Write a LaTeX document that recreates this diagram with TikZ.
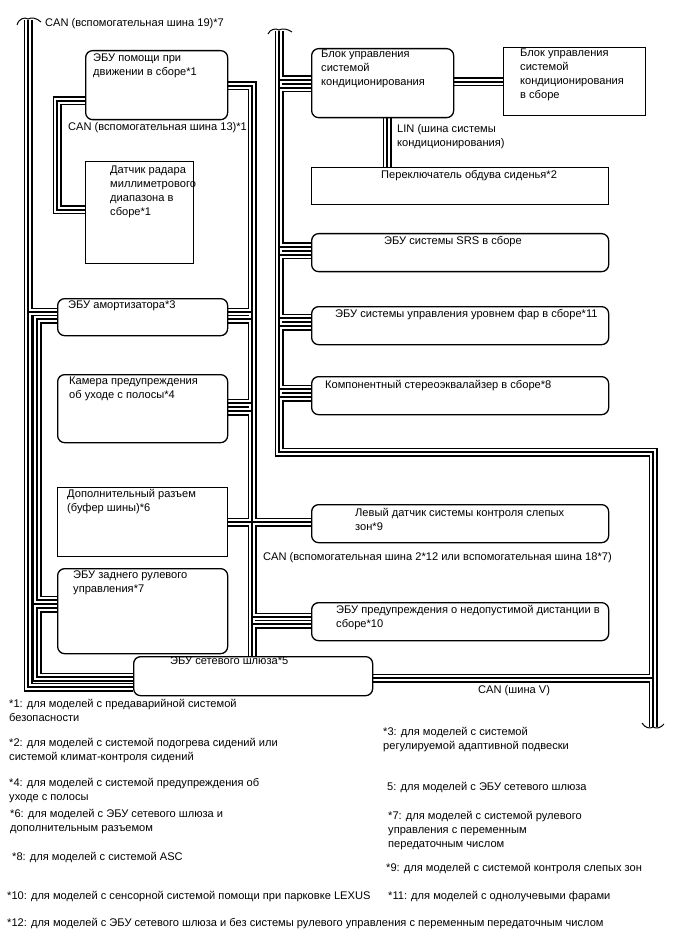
\documentclass[tikz,border=0pt]{standalone}
\usepackage{fontspec}
\setmainfont{Liberation Sans}
\usetikzlibrary{calc}
\pgfdeclarelayer{bgfill}
\pgfdeclarelayer{wires}
\pgfsetlayers{bgfill,wires,main}
\newcommand\fs{\fontsize{11.1}{13.9}\selectfont}
\tikzset{
  rbox/.style={draw, line width=1.3pt, rounded corners=7pt, fill=white, inner sep=0pt, anchor=north west},
  sqbox/.style={draw, line width=1.3pt, fill=white, inner sep=0pt, anchor=north west},
  txt/.style={anchor=north west, inner sep=0pt, align=left, font=\fs},
  wireO/.style={line width=9pt, black},
  wireW/.style={line width=5.2pt, white},
  wireI/.style={line width=2.2pt, black},
  endmark/.style={line width=1pt},
}
\newcommand\allwires[1]{%
  % left outer bus (CAN 19)
  \draw[#1] (lbtop) -- (28,687) -- (gw.west |- 0,687);
  \draw[#1] (28,312) -- (amo.west |- 0,312);
  \draw[#1] (amo.west |- 0,319) -- (37,319) -- (37,600) -- (rear.west |- 0,600);
  \draw[#1] (rear.west |- 0,608) -- (37,608) -- (37,677) -- (gw.west |- 0,677);
  % CAN 13 loop
  \draw[#1] (ebuA.west |- 0,101) -- (57,101) -- (57,210) -- (radar.west |- 0,210);
  % middle bus
  \draw[#1] (ebuA.east |- 0,86) -- (252,86) -- (252,0 |- gw.north);
  \draw[#1] (amo.east |- 0,312) -- (252,312);
  \draw[#1] (amo.east |- 0,319) -- (252,319);
  \draw[#1] (cam.east |- 0,403) -- (252,403);
  \draw[#1] (cam.east |- 0,411) -- (252,411);
  \draw[#1] (conn.east |- 0,522) -- (lsens.west |- 0,522);
  \draw[#1] (252,617) -- (dist.west |- 0,617);
  \draw[#1] (252,624) -- (dist.west |- 0,624);
  % right bus
  \draw[#1] (rbtop) -- (279,452) -- (653,452) -- (rbbot);
  \draw[#1] (279,80) -- (cond.west |- 0,80);
  \draw[#1] (279,88) -- (cond.west |- 0,88);
  \draw[#1] (279,247) -- (srs.west |- 0,247);
  \draw[#1] (279,255) -- (srs.west |- 0,255);
  \draw[#1] (279,318) -- (hl.west |- 0,318);
  \draw[#1] (279,326) -- (hl.west |- 0,326);
  \draw[#1] (279,389) -- (eq.west |- 0,389);
  \draw[#1] (279,397) -- (eq.west |- 0,397);
  % gateway to CAN V
  \draw[#1] (gw.east |- 0,678) -- (653,678);
  % A/C link and LIN
  \draw[#1] (cond.east |- 0,82) -- (conda.west |- 0,82);
  \draw[#1] (387,0 |- cond.south) -- (387,0 |- seat.north);
}
\begin{document}
\begin{tikzpicture}[x=1pt,y=-1pt]
\begin{pgfonlayer}{bgfill}
  \fill[white] (0,0) rectangle (688,949);
\end{pgfonlayer}
\useasboundingbox (0,0) rectangle (688,949);

\coordinate (lbtop) at (28,20);
\coordinate (rbtop) at (279,31);
\coordinate (rbbot) at (653,727);

% left column boxes
\node[rbox, minimum width=142pt, minimum height=69pt] (ebuA) at (85,50) {};
\node[sqbox, minimum width=108pt, minimum height=102pt] (radar) at (85,161) {};
\node[rbox, minimum width=170pt, minimum height=37pt] (amo) at (57,298) {};
\node[rbox, minimum width=170pt, minimum height=68pt] (cam) at (57,374) {};
\node[sqbox, minimum width=170pt, minimum height=69pt] (conn) at (57,487) {};
\node[rbox, minimum width=170pt, minimum height=85pt] (rear) at (57,568) {};
\node[rbox, minimum width=239pt, minimum height=39pt] (gw) at (133,656) {};

% right column boxes
\node[rbox, minimum width=142pt, minimum height=69pt] (cond) at (311,48) {};
\node[sqbox, minimum width=142pt, minimum height=68pt] (conda) at (503,47) {};
\node[sqbox, minimum width=297pt, minimum height=37pt] (seat) at (311,167) {};
\node[rbox, minimum width=297pt, minimum height=38pt] (srs) at (311,233) {};
\node[rbox, minimum width=297pt, minimum height=38pt] (hl) at (311,306) {};
\node[rbox, minimum width=297pt, minimum height=38pt] (eq) at (311,376) {};
\node[rbox, minimum width=297pt, minimum height=38pt] (lsens) at (311,504) {};
\node[rbox, minimum width=297pt, minimum height=38pt] (dist) at (311,602) {};

% wires (layered)
\begin{pgfonlayer}{wires}
  \allwires{wireO}
  \allwires{wireW}
  \allwires{wireI}
\end{pgfonlayer}

% end marks
\draw[endmark] (17,25) .. controls (19,18) and (25,17) .. (28,19) .. controls (31,17) and (37,18) .. (41,22);
\draw[endmark] (268,34) .. controls (270,29) and (276,28) .. (279,30) .. controls (282,28) and (288,29) .. (292,32);
\draw[endmark] (642,723) .. controls (645,728) and (650,729) .. (653,727) .. controls (656,729) and (661,728) .. (664,724);

% box texts
\node[txt] (tA) at (93,54) {ЭБУ помощи при\\движении в сборе*1};
\node[txt] (tRadar) at (110,166) {Датчик радара\\миллиметрового\\диапазона в\\сборе*1};
\node[txt] (tAmo) at (68,301) {ЭБУ амортизатора*3};
\node[txt] (tCam) at (69,377) {Камера предупреждения\\об уходе с полосы*4};
\node[txt] (tConn) at (67,489) {Дополнительный разъем\\(буфер шины)*6};
\node[txt] (tRear) at (73,571) {ЭБУ заднего рулевого\\управления*7};
\node[txt] (tGw) at (170,657) {ЭБУ сетевого шлюза*5};
\node[txt] (tCond) at (321,50) {Блок управления\\системой\\кондиционирования};
\node[txt] (tConda) at (520,49) {Блок управления\\системой\\кондиционирования\\в сборе};
\node[txt] (tSeat) at (381,170) {Переключатель обдува сиденья*2};
\node[txt] (tSrs) at (384,236) {ЭБУ системы SRS в сборе};
\node[txt] (tHl) at (335,309) {ЭБУ системы управления уровнем фар в сборе*11};
\node[txt] (tEq) at (325,380) {Компонентный стереоэквалайзер в сборе*8};
\node[txt] (tLs) at (355,508) {Левый датчик системы контроля слепых\\зон*9};
\node[txt] (tDist) at (336,605) {ЭБУ предупреждения о недопустимой дистанции в\\сборе*10};

% bus labels
\node[txt] (lCan19) at (45,18) {CAN (вспомогательная шина 19)*7};
\node[txt] (lCan13) at (68,122) {CAN (вспомогательная шина 13)*1};
\node[txt] (lLin) at (397,124) {LIN (шина системы\\кондиционирования)};
\node[txt] (lCan2) at (263,552) {CAN (вспомогательная шина 2*12 или вспомогательная шина 18*7)};
\node[txt] (lCanV) at (478,685) {CAN (шина V)};

% notes
\node[txt] (n1) at (9,699) {*1: для моделей с предаварийной системой\\безопасности};
\node[txt] (n2) at (9,738) {*2: для моделей с системой подогрева сидений или\\системой климат-контроля сидений};
\node[txt] (n4) at (9,778) {*4: для моделей с системой предупреждения об\\уходе с полосы};
\node[txt] (n6) at (10,809) {*6: для моделей с ЭБУ сетевого шлюза и\\дополнительным разъемом};
\node[txt] (n8) at (12,852) {*8: для моделей с системой ASC};
\node[txt] (n10) at (7,891) {*10: для моделей с сенсорной системой помощи при парковке LEXUS};
\node[txt] (n12) at (7,918) {*12: для моделей с ЭБУ сетевого шлюза и без системы рулевого управления с переменным передаточным числом};
\node[txt] (n3) at (383,727) {*3: для моделей с системой\\регулируемой адаптивной подвески};
\node[txt] (n5) at (387,782) {5: для моделей с ЭБУ сетевого шлюза};
\node[txt] (n7) at (388,811) {*7: для моделей с системой рулевого\\управления с переменным\\передаточным числом};
\node[txt] (n9) at (386,863) {*9: для моделей с системой контроля слепых зон};
\node[txt] (n11) at (388,891) {*11: для моделей с однолучевыми фарами};
\end{tikzpicture}
\end{document}
